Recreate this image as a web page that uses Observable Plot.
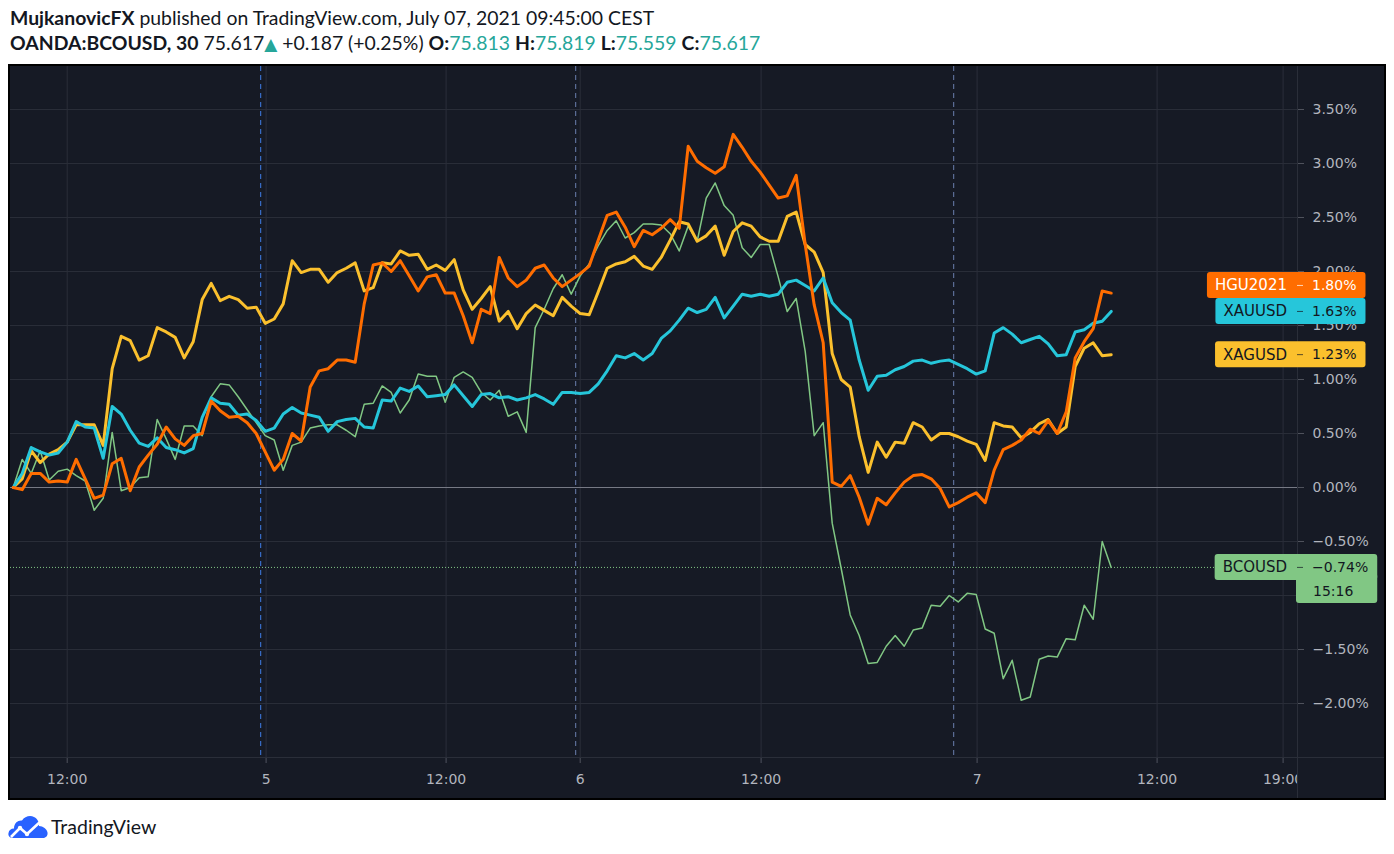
<!DOCTYPE html>
<html>
<head>
<meta charset="utf-8">
<script src="https://cdn.jsdelivr.net/npm/d3@7"></script>
<script src="https://cdn.jsdelivr.net/npm/@observablehq/plot@0.6"></script>
<style>
  html, body { margin:0; padding:0; background:#ffffff; }
  body { width:1394px; height:854px; position:relative; overflow:hidden; }
  #header { position:absolute; left:0; top:0; }
  #box { position:absolute; left:8px; top:64px; width:1378px; height:736px; background:#000; }
  #chart { position:absolute; left:2px; top:2px; width:1374px; height:732px; }
  #footer { position:absolute; left:0; top:800px; }
</style>
</head>
<body>
<svg id="header" width="1394" height="64" font-family="Lato, 'Open Sans', sans-serif" font-size="19.4" fill="#131722">
  <text x="10" y="25"><tspan font-weight="bold">MujkanovicFX</tspan> published on TradingView.com, July 07, 2021 09:45:00 CEST</text>
  <text x="10" y="49.5"><tspan font-weight="bold">OANDA:BCOUSD, 30</tspan>  75.617<tspan fill="#26a69a" font-family="'DejaVu Sans', sans-serif" font-size="17">▲</tspan> +0.187 (+0.25%) <tspan font-weight="bold">O:</tspan><tspan fill="#26a69a">75.813</tspan> <tspan font-weight="bold">H:</tspan><tspan fill="#26a69a">75.819</tspan> <tspan font-weight="bold">L:</tspan><tspan fill="#26a69a">75.559</tspan> <tspan font-weight="bold">C:</tspan><tspan fill="#26a69a">75.617</tspan></text>
</svg>
<div id="box"><div id="chart"></div></div>
<svg id="footer" width="240" height="54">
  <path d="M13 38 C9 38 8 35 8.5 33 C9 30 11 28.5 14 28.5 C14 23 18 20 22 20.5 C24.5 16.5 30 15 34 17 C38 19 39.5 23 39 26 C43 26 47 29 47.5 32.5 C48 35.5 46 38 43 38 Z" fill="#2962ff"/>
  <polyline points="11,37 20,28 27,34 40,22" fill="none" stroke="#ffffff" stroke-width="2.6" stroke-linejoin="round"/>
  <circle cx="20" cy="28" r="2.2" fill="#ffffff"/>
  <circle cx="27" cy="34" r="2.2" fill="#ffffff"/>
  <text x="51" y="34" font-family="Lato, 'Open Sans', sans-serif" font-size="19.5" fill="#131722">TradingView</text>
</svg>
<script>
// ---- data (percent change from start, one value per 30-minute bar) ----
const hgu = [0,-0.02,0.13,0.13,0.05,0.06,0.05,0.26,0.08,-0.10,
-0.07,0.22,0.27,-0.03,0.19,0.30,0.40,0.56,0.45,0.39,
0.48,0.50,0.80,0.71,0.65,0.66,0.60,0.50,0.33,0.16,
0.26,0.50,0.43,0.93,1.08,1.10,1.18,1.18,1.16,1.70,
2.06,2.08,2.00,2.10,1.96,1.82,1.95,1.97,1.80,1.80,
1.59,1.34,1.65,1.61,2.13,1.94,1.86,1.92,2.03,2.06,
1.94,1.86,1.92,1.98,2.05,2.29,2.52,2.55,2.41,2.23,
2.38,2.34,2.40,2.48,2.40,3.16,3.02,2.96,2.91,2.97,
3.27,3.15,3.02,2.92,2.80,2.68,2.70,2.89,2.25,1.69,
1.34,0.05,0.01,0.11,-0.09,-0.34,-0.10,-0.16,-0.05,0.05,
0.11,0.12,0.08,-0.01,-0.18,-0.14,-0.09,-0.05,-0.14,0.16,
0.35,0.39,0.44,0.54,0.50,0.62,0.50,0.70,1.20,1.35,
1.47,1.82,1.80];

const xau = [0,0.13,0.37,0.33,0.30,0.32,0.42,0.61,0.56,0.55,
0.27,0.75,0.68,0.53,0.41,0.38,0.46,0.37,0.35,0.32,
0.36,0.65,0.83,0.78,0.77,0.67,0.68,0.62,0.52,0.55,
0.68,0.74,0.69,0.67,0.65,0.52,0.61,0.63,0.64,0.56,
0.55,0.81,0.80,0.92,0.89,0.94,0.84,0.85,0.86,0.95,
0.85,0.75,0.86,0.87,0.83,0.84,0.81,0.83,0.86,0.82,
0.77,0.88,0.88,0.87,0.88,0.96,1.08,1.22,1.20,1.24,
1.18,1.24,1.38,1.45,1.55,1.66,1.62,1.65,1.76,1.57,
1.68,1.79,1.77,1.79,1.77,1.79,1.90,1.92,1.87,1.82,
1.94,1.71,1.62,1.55,1.18,0.90,1.03,1.04,1.09,1.12,
1.17,1.18,1.15,1.17,1.18,1.14,1.10,1.05,1.08,1.43,
1.48,1.42,1.34,1.37,1.40,1.33,1.22,1.23,1.44,1.46,
1.52,1.54,1.63];

const xag = [0,0.08,0.34,0.23,0.31,0.35,0.42,0.58,0.58,0.58,
0.39,1.10,1.40,1.36,1.18,1.22,1.48,1.44,1.39,1.20,
1.35,1.74,1.89,1.73,1.77,1.74,1.66,1.67,1.52,1.56,
1.70,2.10,1.99,2.02,2.02,1.90,1.99,2.03,2.08,1.82,
1.85,2.08,2.07,2.19,2.15,2.16,2.02,2.06,2.01,2.11,
1.83,1.65,1.75,1.86,1.54,1.63,1.47,1.61,1.69,1.64,
1.59,1.76,1.68,1.61,1.60,1.81,2.03,2.07,2.09,2.14,
2.05,2.02,2.13,2.29,2.46,2.44,2.28,2.33,2.42,2.15,
2.37,2.45,2.42,2.32,2.28,2.28,2.51,2.55,2.25,2.18,
1.99,1.24,1.00,0.93,0.47,0.14,0.42,0.28,0.42,0.41,
0.60,0.56,0.44,0.50,0.50,0.47,0.43,0.40,0.25,0.60,
0.57,0.56,0.46,0.51,0.59,0.63,0.50,0.56,1.12,1.29,
1.34,1.22,1.23];

const bco = [0,0.26,0.13,0.34,0.07,0.15,0.17,0.11,0.06,-0.21,
-0.10,0.51,-0.03,0.00,0.09,0.10,0.63,0.45,0.26,0.57,
0.57,0.48,0.84,0.96,0.95,0.84,0.72,0.60,0.48,0.44,
0.16,0.39,0.42,0.55,0.57,0.58,0.58,0.53,0.47,0.77,
0.78,0.94,0.88,0.69,0.81,1.05,1.03,1.03,0.79,1.02,
1.07,1.02,0.88,0.81,0.90,0.66,0.70,0.51,1.48,1.65,
1.84,1.97,1.79,1.96,2.07,2.24,2.38,2.47,2.31,2.36,
2.44,2.44,2.43,2.35,2.19,2.42,2.28,2.68,2.82,2.61,
2.52,2.22,2.13,2.25,2.25,1.95,1.63,1.75,1.26,0.48,
0.60,-0.33,-0.75,-1.18,-1.37,-1.63,-1.62,-1.47,-1.37,-1.47,
-1.32,-1.30,-1.09,-1.10,-1.00,-1.06,-0.98,-0.99,-1.31,-1.35,
-1.77,-1.60,-1.97,-1.94,-1.59,-1.56,-1.57,-1.40,-1.41,-1.09,
-1.22,-0.50,-0.74];

// series drawn bottom to top
const seriesNames = ["BCOUSD", "XAGUSD", "XAUUSD", "HGU2021"];
const seriesValues = [bco, xag, xau, hgu];
const seriesColors = ["#81c784", "#fbc02d", "#26c6da", "#ff6d00"];
const seriesWidths = [1.5, 3, 3, 3];
const labelTextColors = ["#131722", "#131722", "#131722", "#ffffff"];

const yTicks = [-2, -1.5, -1, -0.5, 0, 0.5, 1, 1.5, 2, 2.5, 3, 3.5];
// the -1.00% label sits under the BCOUSD countdown box in the reference
const yLabelTicks = [-2, -1.5, -0.5, 0, 0.5, 1, 1.5, 2, 2.5, 3, 3.5];
const xTickPos = [6.0, 28.1, 48.1, 63.0, 83.1, 107.1, 127.1, 141.1];
const xTickLabels = ["12:00", "5", "12:00", "6", "12:00", "7", "12:00", "19:00"];
const sessionBreaks = [27.5, 62.5, 104.5];
const countdown = "15:16";

// ---- chart ----
const BG = "#161a25", GRID = "#2a2e39", AXIS_TEXT = "#b2b5be", TICK = "#50535e";
const W = 1374, H = 732, MR = 87, MB = 41;
const FONT = "'DejaVu Sans', sans-serif";
const fmtPct = v => (v < 0 ? "\u2212" : "") + Math.abs(v).toFixed(2) + "%";
const idx = d3.range(hgu.length);

const lineMarks = seriesNames.map((name, k) =>
  Plot.line(idx, {x: d => d, y: d => seriesValues[k][d], stroke: seriesColors[k], strokeWidth: seriesWidths[k]}));

const bcoLast = bco[bco.length - 1];

const chart = Plot.plot({
  width: W, height: H,
  marginLeft: 0, marginTop: 0, marginRight: MR, marginBottom: MB,
  x: {domain: [-0.3, 142.7]},
  y: {domain: [-2.5, 3.898]},
  style: {background: BG, color: AXIS_TEXT, fontFamily: FONT, fontSize: "14px"},
  marks: [
    Plot.ruleY(yTicks, {stroke: GRID}),
    Plot.ruleX(xTickPos, {stroke: GRID}),
    Plot.ruleX(sessionBreaks.slice(0, 1), {stroke: "#3f7ee8", strokeDasharray: "5,4"}),
    Plot.ruleX(sessionBreaks.slice(1), {stroke: "#6a7fae", strokeDasharray: "5,4"}),
    Plot.ruleY([0], {stroke: "#787b86"}),
    Plot.ruleY([bcoLast], {stroke: "#81c784", strokeDasharray: "1,2"}),
    ...lineMarks,
    Plot.axisY({anchor: "right", ticks: yLabelTicks, tickFormat: fmtPct, tickSize: 6, tickPadding: 9,
      stroke: TICK, fill: AXIS_TEXT, label: null, fontSize: 14}),
    Plot.axisX({anchor: "bottom", ticks: xTickPos, tickFormat: d => xTickLabels[xTickPos.indexOf(d)],
      tickSize: 6, tickPadding: 11, stroke: TICK, fill: AXIS_TEXT, label: null, fontSize: 14})
  ]
});

document.getElementById("chart").appendChild(chart);

const svg = d3.select(chart);
const Y = chart.scale("y");
const sepX = W - MR, sepY = H - MB;

// price-axis corner and separators
svg.append("rect").attr("x", sepX).attr("y", sepY).attr("width", MR).attr("height", MB).attr("fill", BG);
svg.append("line").attr("x1", sepX + 0.5).attr("x2", sepX + 0.5).attr("y1", 0).attr("y2", H).attr("stroke", GRID);
svg.append("line").attr("x1", 0).attr("x2", W).attr("y1", sepY + 0.5).attr("y2", sepY + 0.5).attr("stroke", GRID);

// last-value labels
const items = seriesNames.map((name, k) => {
  const vals = seriesValues[k];
  const v = vals[vals.length - 1];
  return {name, v, color: seriesColors[k], text: labelTextColors[k], y: Y.apply(v)};
});
const sorted = items.slice().sort((a, b) => b.y - a.y);
for (let j = 1; j < sorted.length; j++) {
  if (sorted[j].y > sorted[j - 1].y - 26) sorted[j].y = sorted[j - 1].y - 26;
}
for (const it of items) {
  const g = svg.append("g").attr("font-family", FONT).attr("font-size", 14).attr("text-anchor", "start");
  const bgG = g.append("g");
  const nameT = g.append("text").attr("x", sepX - 10).attr("y", it.y).attr("dy", "0.36em")
    .attr("text-anchor", "end").attr("font-size", 15).attr("fill", it.text).text(it.name);
  const valT = g.append("text").attr("x", sepX + 15).attr("y", it.y).attr("dy", "0.36em")
    .attr("text-anchor", "start").attr("fill", it.text).text(fmtPct(it.v));
  const nw = nameT.node().getComputedTextLength();
  const vw = valT.node().getComputedTextLength();
  const left = sepX - 10 - nw - 8, right = sepX + 15 + vw + 9;
  if (it.name === "BCOUSD") {
    bgG.append("rect").attr("x", sepX - 1).attr("y", it.y + 6).attr("width", right - sepX + 1)
      .attr("height", 30).attr("rx", 3).attr("fill", it.color);
    g.append("text").attr("x", sepX + 16).attr("y", it.y + 24).attr("dy", "0.36em")
      .attr("text-anchor", "start").attr("fill", it.text).text(countdown);
  }
  bgG.append("rect").attr("x", left).attr("y", it.y - 13).attr("width", right - left)
    .attr("height", 26).attr("rx", 3).attr("fill", it.color);
  g.append("line").attr("x1", sepX).attr("x2", sepX + 6).attr("y1", it.y + 0.5).attr("y2", it.y + 0.5)
    .attr("stroke", it.text).attr("stroke-opacity", 0.7);
}
</script>
</body>
</html>
